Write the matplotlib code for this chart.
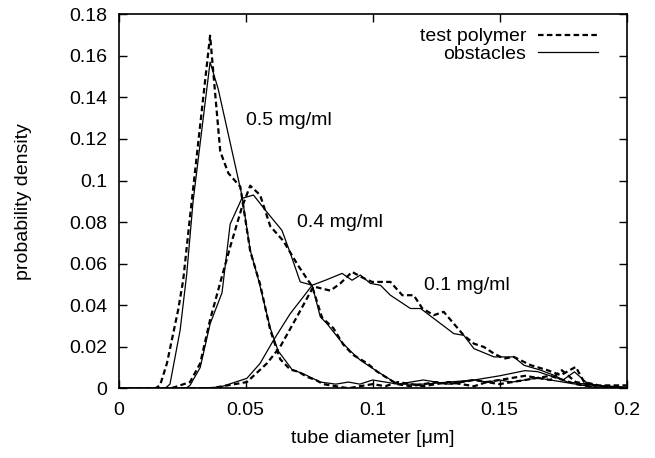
import numpy as np
import matplotlib
matplotlib.use('Agg')
import matplotlib.pyplot as plt

plt.rcParams['font.family'] = ['Liberation Sans', 'DejaVu Sans']

# 0.5 mg/ml
x05_poly = [0.0, 0.0145, 0.0163, 0.0190, 0.0234, 0.0254, 0.0281, 0.0360, 0.0400, 0.0432,
            0.0479, 0.0518, 0.0557, 0.0597, 0.0636, 0.0676, 0.0707, 0.0742, 0.0776, 0.0806,
            0.0855, 0.0905, 0.095, 0.100, 0.105, 0.110, 0.115, 0.120, 0.125, 0.130, 0.135,
            0.140, 0.145, 0.150, 0.155, 0.160, 0.165, 0.170, 0.175, 0.180, 0.185, 0.190, 0.200]
y05_poly = [0.0, 0.0, 0.0015, 0.012, 0.0376, 0.052, 0.0826, 0.1697, 0.114, 0.1035,
            0.097, 0.066, 0.050, 0.028, 0.014, 0.009, 0.008, 0.0055, 0.004, 0.002,
            0.001, 0.0, 0.001, 0.002, 0.001, 0.003, 0.002, 0.001, 0.002, 0.003, 0.002,
            0.001, 0.003, 0.002, 0.003, 0.004, 0.005, 0.006, 0.004, 0.002, 0.001, 0.0, 0.0]
x05_obst = [0.0, 0.0183, 0.0202, 0.0242, 0.0268, 0.0293, 0.0360, 0.0392, 0.0485, 0.0518,
            0.0551, 0.0597, 0.0628, 0.0683, 0.0727, 0.0794, 0.0855, 0.0905, 0.095, 0.100,
            0.105, 0.110, 0.115, 0.120, 0.125, 0.130, 0.135, 0.140, 0.145, 0.150, 0.155,
            0.160, 0.165, 0.170, 0.175, 0.180, 0.185, 0.190, 0.200]
y05_obst = [0.0, 0.0, 0.002, 0.028, 0.055, 0.090, 0.157, 0.144, 0.093, 0.0665,
            0.052, 0.029, 0.018, 0.009, 0.007, 0.003, 0.002, 0.003, 0.002, 0.004,
            0.003, 0.002, 0.003, 0.004, 0.003, 0.002, 0.003, 0.004, 0.003, 0.004, 0.003,
            0.004, 0.005, 0.004, 0.003, 0.002, 0.001, 0.0, 0.0]

# 0.4 mg/ml
x04_poly = [0.0, 0.0204, 0.0222, 0.0281, 0.0321, 0.0360, 0.0407, 0.0439, 0.0485, 0.0518,
            0.0557, 0.0597, 0.0648, 0.0707, 0.0762, 0.0801, 0.0845, 0.0885, 0.0924, 0.0979,
            0.1018, 0.1057, 0.1097, 0.115, 0.120, 0.125, 0.130, 0.135, 0.140, 0.145,
            0.150, 0.155, 0.160, 0.165, 0.170, 0.1745, 0.180, 0.185, 0.190, 0.200]
y04_poly = [0.0, 0.0, 0.0006, 0.003, 0.012, 0.033, 0.054, 0.068, 0.087, 0.0975,
            0.093, 0.078, 0.071, 0.059, 0.049, 0.034, 0.029, 0.021, 0.016, 0.012,
            0.008, 0.005, 0.002, 0.001, 0.002, 0.003, 0.002, 0.003, 0.004, 0.003,
            0.004, 0.005, 0.006, 0.005, 0.004, 0.0087, 0.003, 0.002, 0.001, 0.0]
x04_obst = [0.0, 0.0264, 0.0281, 0.0321, 0.0360, 0.0407, 0.0439, 0.0485, 0.0531, 0.0577,
            0.0643, 0.0676, 0.0715, 0.0762, 0.0794, 0.0821, 0.0873, 0.0912, 0.0952, 0.0991,
            0.1033, 0.1072, 0.110, 0.120, 0.130, 0.140, 0.150, 0.160, 0.165, 0.170,
            0.175, 0.1795, 0.185, 0.190, 0.200]
y04_obst = [0.0, 0.0, 0.0014, 0.010, 0.031, 0.046, 0.079, 0.0914, 0.093, 0.0858,
            0.076, 0.065, 0.0512, 0.0496, 0.0344, 0.031, 0.023, 0.018, 0.0135, 0.0103,
            0.007, 0.004, 0.002, 0.002, 0.003, 0.004, 0.006, 0.0085, 0.008, 0.006,
            0.004, 0.0079, 0.002, 0.001, 0.0]

# 0.1 mg/ml
x01_poly = [0.0, 0.0362, 0.0505, 0.0584, 0.0636, 0.0702, 0.0767, 0.0834, 0.0873, 0.0919,
            0.0965, 0.0998, 0.1070, 0.1117, 0.1162, 0.1196, 0.1241, 0.1280, 0.1359, 0.1399,
            0.1438, 0.1478, 0.1517, 0.1556, 0.1623, 0.1689, 0.1741, 0.1800, 0.1833, 0.1891, 0.200]
y01_poly = [0.0, 0.0, 0.003, 0.012, 0.020, 0.0344, 0.049, 0.047, 0.0505, 0.056,
            0.053, 0.0512, 0.0512, 0.0448, 0.0448, 0.0384, 0.0352, 0.0368, 0.0255, 0.0215,
            0.0199, 0.0167, 0.0143, 0.0151, 0.0111, 0.0087, 0.0063, 0.0103, 0.003, 0.0014, 0.0014]
x01_obst = [0.0, 0.0313, 0.0400, 0.0505, 0.0557, 0.0609, 0.0676, 0.0727, 0.0762, 0.0814,
            0.0880, 0.0919, 0.0952, 0.0991, 0.1031, 0.1070, 0.1149, 0.1189, 0.1241, 0.1320,
            0.1359, 0.1399, 0.1478, 0.1556, 0.1596, 0.1662, 0.1714, 0.1767, 0.1820, 0.1872, 0.200]
y01_obst = [0.0, 0.0, 0.0006, 0.0048, 0.012, 0.023, 0.036, 0.044, 0.0496, 0.052,
            0.0553, 0.052, 0.0545, 0.0505, 0.0496, 0.0448, 0.0384, 0.0384, 0.0336, 0.0263,
            0.0255, 0.0191, 0.0151, 0.0151, 0.0111, 0.0087, 0.0063, 0.003, 0.0023, 0.0014, 0.0006]

labels = ['0.5 mg/ml', '0.4 mg/ml', '0.1 mg/ml']
label_pos = [(0.0502, 0.129), (0.0702, 0.0796), (0.1202, 0.0497)]

fig = plt.figure(figsize=(6.55, 4.58), dpi=100)
ax = fig.add_axes([0.1812, 0.1522, 0.7753, 0.8166])

dash = dict(color='black', lw=1.6, linestyle=(0, (2.5, 1.5)))
solid = dict(color='black', lw=0.9)

ax.plot(x05_poly, y05_poly, label='test polymer', **dash)
ax.plot(x05_obst, y05_obst, label='obstacles', **solid)
ax.plot(x04_poly, y04_poly, **dash)
ax.plot(x04_obst, y04_obst, **solid)
ax.plot(x01_poly, y01_poly, **dash)
ax.plot(x01_obst, y01_obst, **solid)

fs = 14
for lab, (lx, ly) in zip(labels, label_pos):
    ax.text(lx, ly, lab, fontsize=fs, va='center', ha='left')

ax.set_xlim(0, 0.2)
ax.set_ylim(0, 0.18)
ax.set_xticks(np.arange(0, 0.201, 0.05))
ax.set_xticklabels(['0', '0.05', '0.1', '0.15', '0.2'])
ax.set_yticks(np.arange(0, 0.181, 0.02))
ax.set_yticklabels(['0', '0.02', '0.04', '0.06', '0.08', '0.1', '0.12', '0.14', '0.16', '0.18'])
ax.tick_params(direction='in', length=5.5, width=1, top=True, right=True, labelsize=fs)
ax.tick_params(axis='x', pad=10)
ax.tick_params(axis='y', pad=8)
for s in ax.spines.values():
    s.set_linewidth(1.2)

ax.set_xlabel('tube diameter [\u03bcm]', fontsize=fs, labelpad=8)
ax.set_ylabel('probability density', fontsize=fs, labelpad=27)

ax.legend(loc='upper right', bbox_to_anchor=(0.944, 0.964), frameon=False,
          markerfirst=False, fontsize=fs, handlelength=3.1, labelspacing=0.0,
          borderaxespad=0, borderpad=0, handletextpad=0.6)

fig.savefig('out.png', dpi=100)
